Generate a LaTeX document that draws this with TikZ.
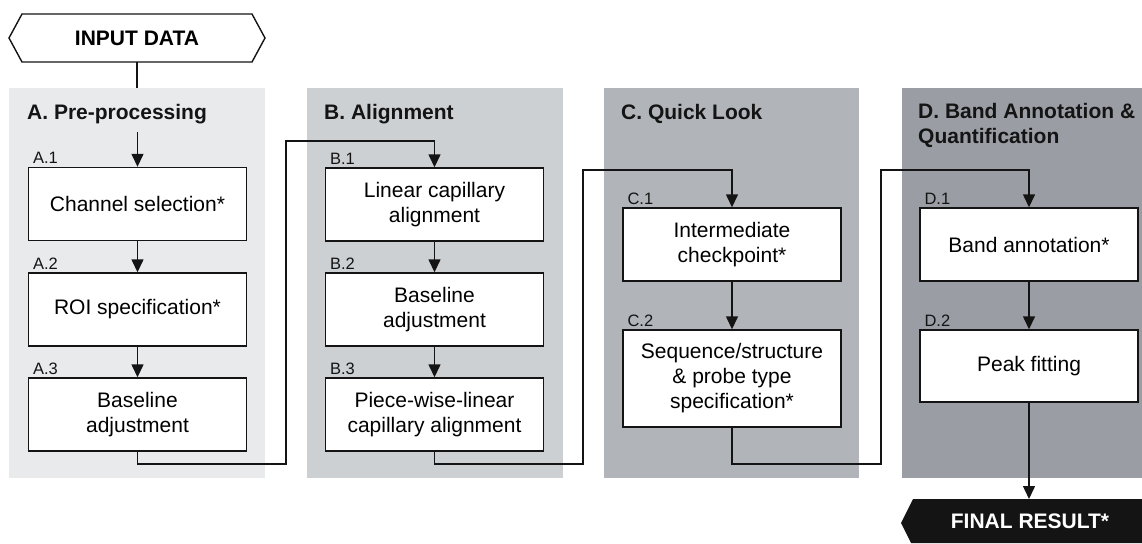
\documentclass[tikz,border=0pt]{standalone}
\usepackage{fontspec}
\setmainfont{Liberation Sans}
\usetikzlibrary{arrows.meta}
\definecolor{panelA}{RGB}{233,234,236}
\definecolor{panelB}{RGB}{205,208,211}
\definecolor{panelC}{RGB}{177,181,185}
\definecolor{panelD}{RGB}{154,158,164}
\definecolor{ink}{RGB}{20,20,20}
\tikzset{
  stepbox/.style={draw=ink, fill=white, line width=1.4pt, minimum width=218pt, minimum height=73pt,
    align=center, inner sep=2pt, font=\fontsize{21}{25}\selectfont},
  steplabel/.style={anchor=base west, inner sep=0pt, font=\fontsize{16.5}{19}\selectfont, text=ink},
  paneltitle/.style={anchor=base west, inner sep=0pt, align=left, font=\fontsize{21}{25}\selectfont\bfseries, text=ink},
  conn/.style={draw=ink, line width=1.4pt},
  arr/.style={conn, -{Triangle[length=13pt,width=12pt]}},
  terminal/.style={inner sep=0pt, font=\fontsize{21}{25}\selectfont\bfseries},
}
\begin{document}
\begin{tikzpicture}[x=1pt,y=-1pt]
\useasboundingbox (0,0) rectangle (1142,543);
% panels
\fill[panelA] (9,88) rectangle (265,478);
\fill[panelB] (307,88) rectangle (563,478);
\fill[panelC] (604,88) rectangle (859,478);
\fill[panelD] (902,88) rectangle (1142,478);
% titles
\node[paneltitle] (tA) at (27,119) {A. Pre-processing};
\node[paneltitle] (tB) at (324,119) {B. Alignment};
\node[paneltitle] (tC) at (621,119) {C. Quick Look};
\node[paneltitle] (tD) at (918,143) {D. Band Annotation \&\\Quantification};
% input terminal
\draw[draw=ink, fill=white, line width=1.4pt] (9,38) -- (22,14) -- (252,14) -- (265,38) -- (252,62) -- (22,62) -- cycle;
\node[terminal, minimum height=48pt, minimum width=230pt] (input) at (137,38) {INPUT DATA};
% final terminal
\fill[ink] (913,499) -- (1142,499) -- (1142,543) -- (911,543) -- (901,523) -- cycle;
\node[terminal, text=white, minimum height=44pt, minimum width=200pt] (final) at (1030,521) {FINAL RESULT*};
% boxes
\node[stepbox] (A1) at (137.5,204) {Channel selection*};
\node[stepbox] (A2) at (137.5,309.5) {ROI specification*};
\node[stepbox] (A3) at (137.5,414.5) {Baseline\\adjustment};
\node[stepbox] (B1) at (434.5,204.5) {Linear capillary\\alignment};
\node[stepbox] (B2) at (434.5,309.5) {Baseline\\adjustment};
\node[stepbox] (B3) at (434.5,414.5) {Piece-wise-linear\\capillary alignment};
\node[stepbox] (C1) at (732,244.5) {Intermediate\\checkpoint*};
\node[stepbox, minimum height=97pt] (C2) at (732,378.5) {Sequence/structure\\\&{} probe type\\specification*};
\node[stepbox] (D1) at (1029,244.5) {Band annotation*};
\node[stepbox, minimum height=72pt] (D2) at (1029,366) {Peak fitting};
% step labels
\foreach \n/\t in {A1/A.1,A2/A.2,A3/A.3,B1/B.1,B2/B.2,B3/B.3,C1/C.1,C2/C.2,D1/D.1,D2/D.2}
  \node[steplabel] (l\n) at ([xshift=5pt,yshift=3pt]\n.north west) {\t};
% connectors
\coordinate (aStart) at (137.5,132);
\draw[conn] (input.south) -- (137,88);
\draw[arr] (aStart) -- (A1.north);
\draw[arr] (A1) -- (A2);
\draw[arr] (A2) -- (A3);
\draw[arr] (A3.south) -- (137.5,464) -- (286,464) -- (286,141) -- (434.5,141) -- (B1.north);
\draw[arr] (B1) -- (B2);
\draw[arr] (B2) -- (B3);
\draw[arr] (B3.south) -- (434.5,464) -- (583,464) -- (583,170) -- (732,170) -- (C1.north);
\draw[arr] (C1) -- (C2);
\draw[arr] (C2.south) -- (732,464) -- (881,464) -- (881,170) -- (1029,170) -- (D1.north);
\draw[arr] (D1) -- (D2);
\draw[arr] (D2.south) -- (1029,499);
\end{tikzpicture}
\end{document}
